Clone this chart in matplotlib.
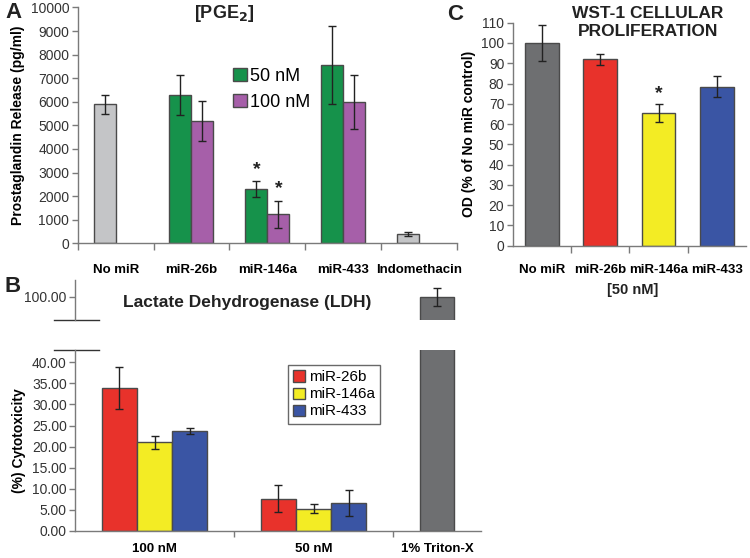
import numpy as np
import matplotlib
matplotlib.use("Agg")
import matplotlib.pyplot as plt

plt.rcParams['font.family'] = ['Liberation Sans', 'DejaVu Sans']

# ---------------- data ----------------
# Panel A: PGE2 release
pge_groups = ['No miR', 'miR-26b', 'miR-146a', 'miR-433', 'Indomethacin']
pge_ctrl_idx = [0, 4]
pge_ctrl = [5900, 380]
pge_ctrl_err = [400, 90]
pge_trt_idx = [1, 2, 3]
pge_50 = [6300, 2300, 7550]
pge_50_err = [840, 335, 1650]
pge_100 = [5200, 1230, 6000]
pge_100_err = [850, 575, 1140]
pge_yticks = list(range(0, 10001, 1000))

# Panel B: LDH cytotoxicity
ldh_groups = ['100 nM', '50 nM', '1% Triton-X']
ldh_series = ['miR-26b', 'miR-146a', 'miR-433']
ldh_100 = [33.9, 21.0, 23.7]
ldh_100_err = [5.0, 1.5, 0.8]
ldh_50 = [7.7, 5.3, 6.7]
ldh_50_err = [3.1, 1.1, 3.1]
triton = 100.0
triton_err = 2.2
ldh_yticks = [0, 5, 10, 15, 20, 25, 30, 35, 40]

# Panel C: WST-1 proliferation
wst_groups = ['No miR', 'miR-26b', 'miR-146a', 'miR-433']
wst_vals = [100, 92, 65.5, 78.5]
wst_err = [9, 2.8, 4.5, 5]
wst_yticks = list(range(0, 111, 10))

# colours
c_green = '#16924b'
c_purple = '#a65fa9'
c_lgrey = '#c4c5c7'
c_dgrey = '#6e6f71'
c_red = '#e8322b'
c_yellow = '#f3ec24'
c_blue = '#3a55a4'
edge = '#4a4a4a'
spine_c = '#7a7a7a'

W, H = 750, 558
fig = plt.figure(figsize=(7.5, 5.58), dpi=100)

def ax_at(x0, x1, ytop, ybot):
    return fig.add_axes([x0 / W, (H - ybot) / H, (x1 - x0) / W, (ybot - ytop) / H])

def style(ax):
    for s in ['top', 'right']:
        ax.spines[s].set_visible(False)
    for s in ['left', 'bottom']:
        ax.spines[s].set_color(spine_c)
        ax.spines[s].set_linewidth(1.0)
    ax.tick_params(axis='y', colors=spine_c, labelcolor='#333333', labelsize=10, length=4, width=1, pad=2)

ekw = dict(ecolor='#222222', elinewidth=1, capsize=3, capthick=1)

# ---------------- Panel A ----------------
axA = ax_at(77.7, 457, 7.5, 243.3)
style(axA)
bw = 0.29
x = np.arange(len(pge_groups))
axA.bar(x[pge_ctrl_idx] - bw / 2, pge_ctrl, bw, color=c_lgrey, edgecolor=edge, linewidth=1,
        yerr=pge_ctrl_err, error_kw=ekw)
axA.bar(x[pge_trt_idx] - bw / 2, pge_50, bw, color=c_green, edgecolor=edge, linewidth=1,
        yerr=pge_50_err, error_kw=ekw, label='50 nM')
axA.bar(x[pge_trt_idx] + bw / 2, pge_100, bw, color=c_purple, edgecolor=edge, linewidth=1,
        yerr=pge_100_err, error_kw=ekw, label='100 nM')
axA.set_xlim(-0.5, len(pge_groups) - 0.5)
axA.set_ylim(0, 10000)
axA.set_yticks(pge_yticks)
axA.set_xticks(x)
axA.set_xticklabels(pge_groups, fontweight='bold', fontsize=9.5)
axA.set_xticks(np.arange(-0.5, len(pge_groups)), minor=True)
axA.tick_params(axis='x', which='major', length=0, pad=15)
axA.tick_params(axis='x', which='minor', length=5, color=spine_c, width=1)
axA.set_ylabel('Prostaglandin Release (pg/ml)', fontweight='bold', fontsize=10, labelpad=4)
for xi, v, e in [(x[2] - bw / 2, pge_50[1], pge_50_err[1]), (x[2] + bw / 2, pge_100[1], pge_100_err[1])]:
    axA.text(xi, v + e + 150, '*', ha='center', va='bottom', fontsize=14, fontweight='bold', color='#222222')
legA = axA.legend(loc='upper left', bbox_to_anchor=(0.41, 0.745), frameon=False, fontsize=13,
                  handlelength=0.75, handleheight=0.75, handletextpad=0.2, labelspacing=0.5,
                  borderpad=0, borderaxespad=0)
fig.text(224 / W, 1 - 14 / H, '[PGE$_\\mathbf{2}$]', ha='center', va='center', fontsize=13, fontweight='bold', color='#222222')
fig.text(5 / W, 1 - 13 / H, 'A', ha='left', va='center', fontsize=16, fontweight='bold', color='#222222')

# ---------------- Panel C ----------------
axC = ax_at(512.7, 746, 22.7, 245.7)
style(axC)
xc = np.arange(len(wst_groups))
cols = [c_dgrey, c_red, c_yellow, c_blue]
axC.bar(xc, wst_vals, 0.58, color=cols, edgecolor=edge, linewidth=1, yerr=wst_err, error_kw=ekw)
axC.set_xlim(-0.5, len(wst_groups) - 0.5)
axC.set_ylim(0, 110)
axC.set_yticks(wst_yticks)
axC.set_xticks(xc)
axC.set_xticklabels(wst_groups, fontweight='bold', fontsize=9.5)
axC.set_xticks(np.arange(0.5, len(wst_groups) - 0.5), minor=True)
axC.tick_params(axis='x', which='major', length=0, pad=13)
axC.tick_params(axis='x', which='minor', length=5, color=spine_c, width=1)
axC.set_ylabel('OD (% of No miR control)', fontweight='bold', fontsize=10, labelpad=4)
axC.text(xc[2], wst_vals[2] + wst_err[2] + 1, '*', ha='center', va='bottom', fontsize=14, fontweight='bold', color='#222222')
fig.text(648 / W, 1 - 13 / H, 'WST-1 CELLULAR', ha='center', va='center', fontsize=12.5, fontweight='bold', color='#222222')
fig.text(648 / W, 1 - 32 / H, 'PROLIFERATION', ha='center', va='center', fontsize=12.5, fontweight='bold', color='#222222')
fig.text(447 / W, 1 - 15 / H, 'C', ha='left', va='center', fontsize=16, fontweight='bold', color='#222222')
fig.text(633 / W, 1 - 290 / H, '[50 nM]', ha='center', va='center', fontsize=10.5, fontweight='bold', color='#222222')

# ---------------- Panel B ----------------
axB = ax_at(75, 481, 350, 531)
axBu = ax_at(75, 481, 280, 320)
style(axB)
style(axBu)
axBu.spines['bottom'].set_visible(False)
axBu.set_xticks([])
bwb = 0.222
xb = np.arange(2)
bcols = [c_red, c_yellow, c_blue]
for i, name in enumerate(ldh_series):
    vals = [ldh_100[i], ldh_50[i]]
    errs = [ldh_100_err[i], ldh_50_err[i]]
    axB.bar(xb + (i - 1) * bwb, vals, bwb, color=bcols[i], edgecolor=edge, linewidth=1,
            yerr=errs, error_kw=ekw, label=name)
xt = 2 - bwb
axB.bar([xt], [triton], bwb * 0.98, color=c_dgrey, edgecolor=edge, linewidth=1)
axBu.bar([xt], [triton], bwb * 0.98, color=c_dgrey, edgecolor=edge, linewidth=1,
         yerr=[triton_err], error_kw=ekw)
for a in (axB, axBu):
    a.set_xlim(-0.5, (481 - 75) / 159 - 0.5)
axB.set_ylim(0, (531 - 350) / 4.22)
axBu.set_ylim(100 - (320 - 297) / 4.22, 100 + (297 - 280) / 4.22)
axB.set_yticks(ldh_yticks)
axB.set_yticklabels(['%.2f' % t for t in ldh_yticks])
axBu.set_yticks([100])
axBu.set_yticklabels(['100.00'])
axB.set_xticks([0, 1, xt])
axB.set_xticklabels(ldh_groups, fontweight='bold', fontsize=9.5)
axB.set_xticks([0.5, 1.5], minor=True)
axB.tick_params(axis='x', which='major', length=0, pad=9)
axB.tick_params(axis='x', which='minor', length=4, color=spine_c, width=1)
axB.set_ylabel('(%) Cytotoxicity', fontweight='bold', fontsize=10, labelpad=4)
# break marks
for a, yy in ((axBu, 0.0), (axB, 1.0)):
    a.plot([(54 - 75) / 406, (99 - 75) / 406], [yy, yy], transform=a.transAxes, color='#333333',
           lw=1, clip_on=False)
legB = axB.legend(loc='upper left', bbox_to_anchor=(0.525, 0.917), frameon=True, fontsize=11,
                  handlelength=0.75, handleheight=0.75, handletextpad=0.25, labelspacing=0.2,
                  borderpad=0.35, borderaxespad=0, fancybox=False)
legB.get_frame().set_edgecolor('#444444')
legB.get_frame().set_linewidth(1)
fig.text(247 / W, 1 - 302 / H, 'Lactate Dehydrogenase (LDH)', ha='center', va='center', fontsize=12.5,
         fontweight='bold', color='#222222')
fig.text(5 / W, 1 - 286 / H, 'B', ha='left', va='center', fontsize=16, fontweight='bold', color='#222222')

fig.savefig('out.png', dpi=100)
